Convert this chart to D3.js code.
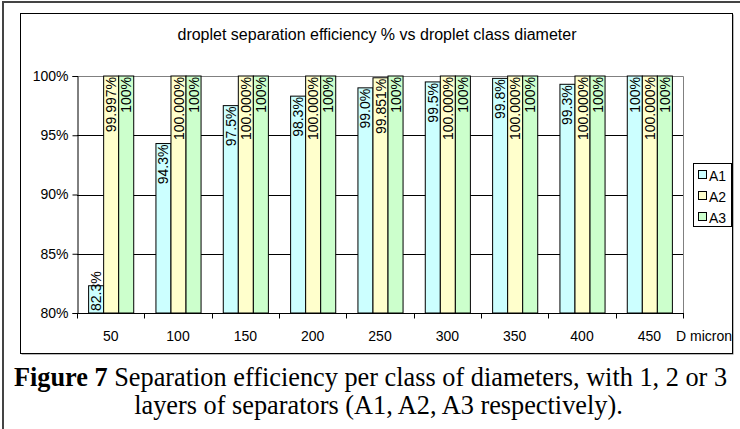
<!DOCTYPE html>
<html>
<head>
<meta charset="utf-8">
<script src="https://cdn.jsdelivr.net/npm/d3@7"></script>
<style>
  body { margin: 0; background: #fff; }
  svg { display: block; }
</style>
</head>
<body>
<svg id="chart" width="740" height="429"></svg>
<script>
const diameters = ["50", "100", "150", "200", "250", "300", "350", "400", "450"]
const seriesNames = ["A1", "A2", "A3"]
const a1 = [82.3, 94.3, 97.5, 98.3, 99.0, 99.5, 99.8, 99.3, 100]
const a2 = [99.997, 100, 100, 100, 99.851, 100, 100, 100, 100]
const a3 = [100, 100, 100, 100, 100, 100, 100, 100, 100]
const a1Labels = ["82.3%", "94.3%", "97.5%", "98.3%", "99.0%", "99.5%", "99.8%", "99.3%", "100%"]
const a2Labels = ["99.997%", "100.000%", "100.000%", "100.000%", "99.851%", "100.000%", "100.000%", "100.000%", "100.000%"]
const a3Labels = ["100%", "100%", "100%", "100%", "100%", "100%", "100%", "100%", "100%"]
const yTicks = [80, 85, 90, 95, 100]

const colors = ["#ccffff", "#ffffcc", "#ccffcc"]
const values = [a1, a2, a3]
const labels = [a1Labels, a2Labels, a3Labels]

const svg = d3.select("#chart")
const font = "'Liberation Sans', Arial, sans-serif"

// outer frame of the figure
svg.append("rect")
  .attr("x", 3).attr("y", 2).attr("width", 800).attr("height", 500)
  .attr("fill", "none").attr("stroke", "#444").attr("stroke-width", 2)

// chart box with a small shadow
svg.append("rect")
  .attr("x", 21.5).attr("y", 14.5).attr("width", 712).attr("height", 340)
  .attr("fill", "#777")
svg.append("rect")
  .attr("x", 20.5).attr("y", 13.5).attr("width", 712).attr("height", 340)
  .attr("fill", "#fff").attr("stroke", "#000")

const plotL = 77, plotR = 683, plotT = 76, plotB = 313

const x0 = d3.scaleBand().domain(diameters).range([plotL, plotR])
  .paddingInner(0.33).paddingOuter(0.165)
const x1 = d3.scaleBand().domain(seriesNames).range([0, x0.bandwidth()])
const y = d3.scaleLinear().domain([80, 100]).range([plotB, plotT])

// title
svg.append("text")
  .attr("x", 377).attr("y", 40)
  .attr("text-anchor", "middle")
  .style("font-family", font).style("font-size", "16px")
  .text("droplet separation efficiency % vs droplet class diameter")

// gridlines
svg.append("g").selectAll("line")
  .data(yTicks.filter(d => d > 80 && d < 100))
  .join("line")
  .attr("x1", plotL).attr("x2", plotR)
  .attr("y1", d => Math.round(y(d)) + 0.5).attr("y2", d => Math.round(y(d)) + 0.5)
  .attr("stroke", "#000")

// plot area border (top, right)
svg.append("path")
  .attr("d", `M${plotL},${plotT + 0.5}H${plotR + 0.5}V${plotB}`)
  .attr("fill", "none").attr("stroke", "#808080")

// bars
const groups = svg.append("g").selectAll("g")
  .data(diameters)
  .join("g")
  .attr("transform", d => `translate(${x0(d)},0)`)

groups.each(function(d, i) {
  const g = d3.select(this)
  seriesNames.forEach((s, j) => {
    const v = values[j][i]
    const bx = x1(s), bw = x1.bandwidth()
    g.append("rect")
      .attr("x", bx + 0.5).attr("y", y(v))
      .attr("width", bw).attr("height", plotB - y(v))
      .attr("fill", colors[j]).attr("stroke", "#000")
    const t = g.append("text")
      .style("font-family", font).style("font-size", "14px")
      .attr("dominant-baseline", "central")
      .text(labels[j][i])
    const len = t.node().getComputedTextLength()
    const cx = bx + bw / 2 + 0.5
    if (len + 4 > plotB - y(v)) {
      t.attr("text-anchor", "start")
        .attr("transform", `translate(${cx},${plotB - 2}) rotate(-90)`)
    } else {
      t.attr("text-anchor", "end")
        .attr("transform", `translate(${cx},${y(v) + 1}) rotate(-90)`)
    }
  })
})

// y axis
const yAxis = svg.append("g")
  .attr("transform", `translate(${plotL + 0.5},0)`)
  .call(d3.axisLeft(y).tickValues(yTicks).tickFormat(d => d + "%").tickSize(5).tickPadding(4))
yAxis.select(".domain").attr("stroke", "#000")
yAxis.selectAll("text").style("font-family", font).style("font-size", "14px").attr("fill", "#000")

// x axis: ticks on the band edges
const xAxis = svg.append("g").attr("transform", `translate(0,${plotB + 0.5})`)
xAxis.append("line").attr("x1", plotL).attr("x2", plotR + 1).attr("stroke", "#000")
xAxis.selectAll(".tk")
  .data(diameters.concat(["end"]))
  .join("line")
  .attr("class", "tk")
  .attr("x1", (d, i) => Math.round(plotL + i * x0.step()) + 0.5)
  .attr("x2", (d, i) => Math.round(plotL + i * x0.step()) + 0.5)
  .attr("y1", 0).attr("y2", 5)
  .attr("stroke", "#000")
xAxis.selectAll(".lbl")
  .data(diameters)
  .join("text")
  .attr("class", "lbl")
  .attr("x", d => x0(d) + x0.bandwidth() / 2)
  .attr("y", 27)
  .attr("text-anchor", "middle")
  .style("font-family", font).style("font-size", "14px")
  .text(d => d)
xAxis.append("text")
  .attr("x", 732).attr("y", 27)
  .attr("text-anchor", "end")
  .style("font-family", font).style("font-size", "14px")
  .text("D micron")

// legend
const legend = svg.append("g")
legend.append("rect")
  .attr("x", 693.5).attr("y", 163.5).attr("width", 38).attr("height", 63)
  .attr("fill", "#fff").attr("stroke", "#000")
seriesNames.forEach((s, j) => {
  const ly = 175 + j * 21
  legend.append("rect")
    .attr("x", 698.5).attr("y", ly - 4.5).attr("width", 8).attr("height", 8)
    .attr("fill", colors[j]).attr("stroke", "#000")
  legend.append("text")
    .attr("x", 709).attr("y", ly + 1)
    .attr("dominant-baseline", "central")
    .style("font-family", font).style("font-size", "14px")
    .text(s)
})

// caption
const serif = "'Liberation Serif', 'Times New Roman', serif"
const cap1 = svg.append("text")
  .attr("x", 370.5).attr("y", 386)
  .attr("text-anchor", "middle")
  .style("font-family", serif).style("font-size", "26.3px")
cap1.append("tspan").style("font-weight", "bold").text("Figure 7")
cap1.append("tspan").text(" Separation efficiency per class of diameters, with 1, 2 or 3")
svg.append("text")
  .attr("x", 378.5).attr("y", 414)
  .attr("text-anchor", "middle")
  .style("font-family", serif).style("font-size", "26.3px")
  .text("layers of separators (A1, A2, A3 respectively).")
</script>
</body>
</html>
